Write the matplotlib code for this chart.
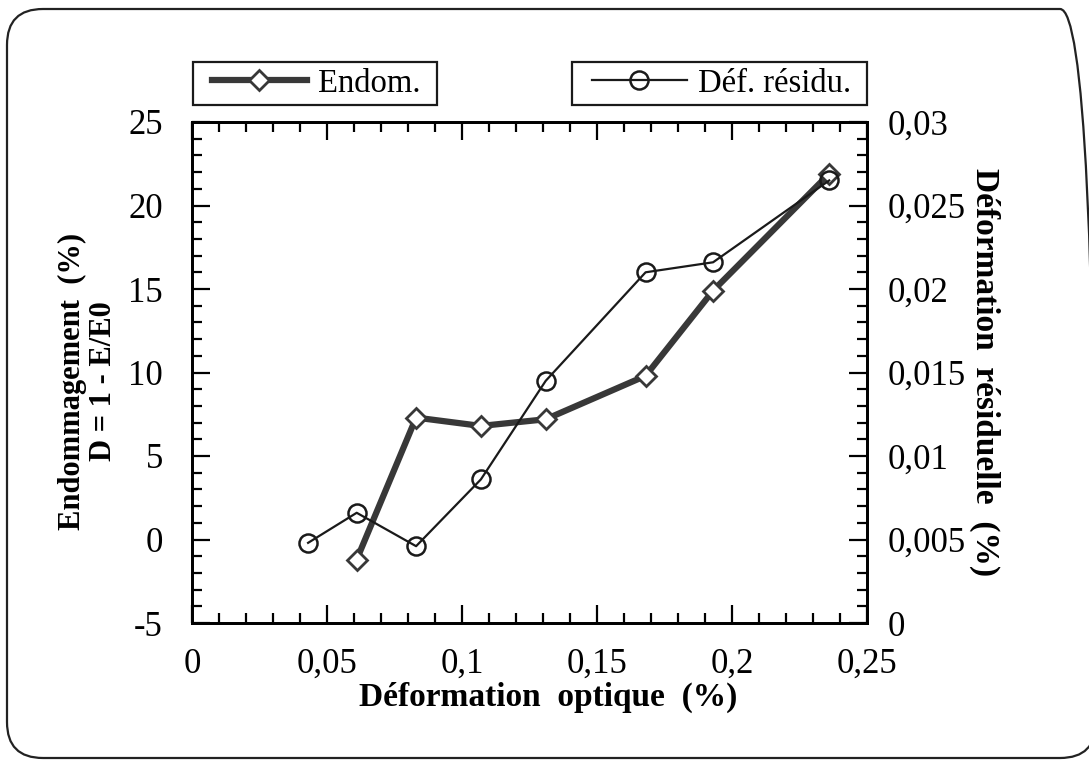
import matplotlib
matplotlib.use("Agg")
import matplotlib.pyplot as plt
from matplotlib.patches import FancyBboxPatch, Rectangle
from matplotlib.ticker import MultipleLocator, FuncFormatter

# ---- data ----
x_endom = [0.061, 0.083, 0.107, 0.131, 0.168, 0.193, 0.236]
endom = [-1.2, 7.3, 6.8, 7.2, 9.8, 14.9, 21.9]
x_res = [0.043, 0.061, 0.083, 0.107, 0.131, 0.168, 0.193, 0.236]
res = [0.0048, 0.0066, 0.0046, 0.0086, 0.0145, 0.0210, 0.0216, 0.0265]

x_ticks = [0, 0.05, 0.1, 0.15, 0.2, 0.25]
y_left_ticks = [-5, 0, 5, 10, 15, 20, 25]
y_right_ticks = [0, 0.005, 0.01, 0.015, 0.02, 0.025, 0.03]

label_endom = "Endom."
label_res = "Déf. résidu."
xlabel = "Déformation  optique  (%)"
ylabel_left = "Endommagement  (%)\nD = 1 - E/E0"
ylabel_right = "Déformation  résiduelle  (%)"

plt.rcParams['font.family'] = ['Liberation Serif', 'DejaVu Serif']

W, H = 1089, 760
fig = plt.figure(figsize=(W / 100, H / 100), dpi=100)

# rounded outer frame
frame = FancyBboxPatch((7 / W, 2 / H), (1096 - 7) / W, (751 - 2) / H,
                       boxstyle="round,pad=0,rounding_size=0.033",
                       transform=fig.transFigure, fill=False,
                       edgecolor="#222222", linewidth=1.6, clip_on=False,
                       mutation_aspect=W / H)
fig.patches.append(frame)

left, right, top, bottom = 192, 867, 122, 623
ax = fig.add_axes([left / W, (H - bottom) / H, (right - left) / W, (bottom - top) / H])
ax2 = ax.twinx()

fs = 25

def comma(v, pos):
    return ("%g" % v).replace(".", ",")

ax.set_xlim(0, 0.25)
ax.set_ylim(-5, 25)
ax2.set_ylim(0, 0.03)

ax.set_xticks(x_ticks)
ax.set_yticks(y_left_ticks)
ax2.set_yticks(y_right_ticks)
ax.xaxis.set_minor_locator(MultipleLocator(0.01))
ax.yaxis.set_minor_locator(MultipleLocator(1))
ax2.yaxis.set_minor_locator(MultipleLocator(0.001))
ax.xaxis.set_major_formatter(FuncFormatter(comma))
ax.yaxis.set_major_formatter(FuncFormatter(comma))
ax2.yaxis.set_major_formatter(FuncFormatter(comma))

ax.tick_params(axis='x', which='both', direction='in', top=True, bottom=True,
               labelsize=fs, width=1.6, pad=18)
ax.tick_params(axis='y', which='both', direction='in', left=True, right=False,
               labelsize=fs, width=1.6, pad=21)
ax2.tick_params(axis='y', which='both', direction='in', right=True,
                labelsize=fs, width=1.6, pad=15)
for a in (ax, ax2):
    a.tick_params(which='major', length=13)
    a.tick_params(which='minor', length=7)
for s in list(ax.spines.values()) + list(ax2.spines.values()):
    s.set_linewidth(2)

l1, = ax.plot(x_endom, endom, color="#383838", linewidth=4.5, marker="D",
              markersize=10, markerfacecolor="white", markeredgecolor="#383838",
              markeredgewidth=2, zorder=3)
l2, = ax2.plot(x_res, res, color="#1a1a1a", linewidth=1.6, marker="o",
               markersize=13, markerfacecolor="none", markeredgecolor="#1a1a1a",
               markeredgewidth=1.8, zorder=4)

ax.set_xlabel(xlabel, fontsize=24, fontweight='bold')
ax.xaxis.set_label_coords((548 - left) / (right - left), (bottom - 682) / (bottom - top))
ax.set_ylabel(ylabel_left, fontsize=22, fontweight='bold', linespacing=1.1)
ax.yaxis.set_label_coords((118 - left) / (right - left), (bottom - 381) / (bottom - top))
ax2.set_ylabel(ylabel_right, fontsize=24, fontweight='bold', rotation=-90,
               labelpad=25)

# legend boxes (frames drawn as rectangles, legends without frames)
ycen = (H - 83.5) / H
for (x0, x1) in [(193, 437), (572, 867)]:
    fig.patches.append(Rectangle((x0 / W, (H - 105) / H), (x1 - x0) / W, 43 / H,
                                 transform=fig.transFigure, fill=True,
                                 facecolor="white", edgecolor="#1a1a1a",
                                 linewidth=1.6, zorder=5))

leg_kw = dict(loc='center left', fontsize=23.5, frameon=False,
              handlelength=2.9, handletextpad=0.35, borderpad=0,
              borderaxespad=0, bbox_transform=fig.transFigure)
leg1 = fig.legend([l1], [label_endom], bbox_to_anchor=(212 / W, ycen), **leg_kw)
leg2 = fig.legend([l2], [label_res], bbox_to_anchor=(592 / W, ycen), **leg_kw)
leg1.set_zorder(6)
leg2.set_zorder(6)

fig.savefig("out.png", dpi=100)
